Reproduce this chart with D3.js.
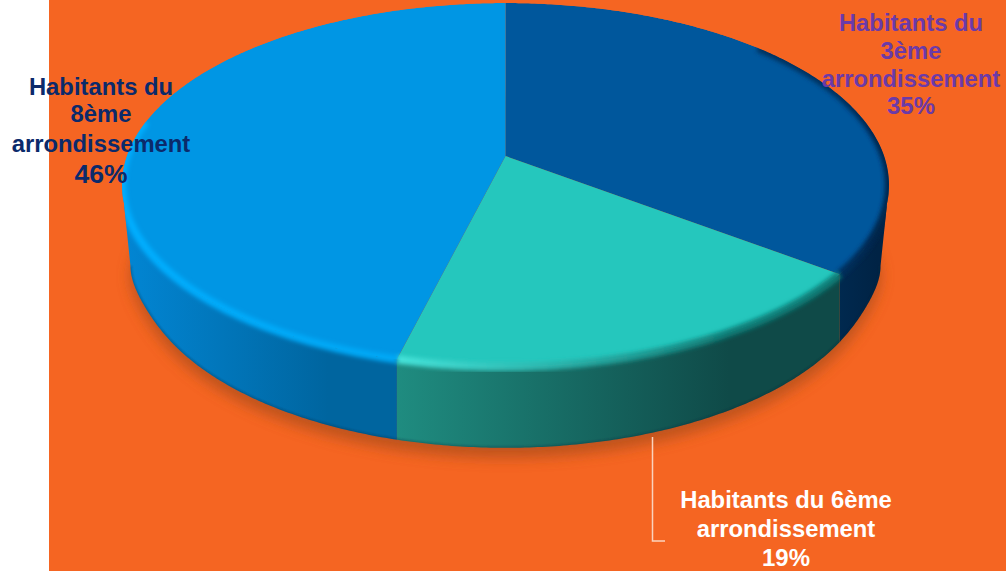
<!DOCTYPE html>
<html>
<head>
<meta charset="utf-8">
<script src="https://cdnjs.cloudflare.com/ajax/libs/d3/7.8.5/d3.min.js"></script>
<style>
    html, body { margin: 0; padding: 0; background: #fff; overflow: hidden; }
    svg { display: block; }
    text { font-family: "Liberation Sans", Arial, sans-serif; font-weight: bold; text-anchor: middle; }
</style>
</head>
<body>
<div id="chart"></div>
<script>
// Data (label says rounded %, slice sizes)
var categories = ['Habitants du 3ème arrondissement', 'Habitants du 6ème arrondissement', 'Habitants du 8ème arrondissement'];
var shares = [35.3, 18.6, 46.1];
var shareLabels = ['35%', '19%', '46%'];

// Slice colours: top face, wall gradient (left, right), rim light (left, right)
var topColors = ['#00579c', '#25c7bd', '#0096e4'];
var wallLeft = ['#00294f', '#1f8c80', '#0286d4'];
var wallRight = ['#002345', '#0f4a48', '#00659f'];
var rimLeft = ['#00305e', '#45e4da', '#00aeff'];
var rimRight = ['#00264e', '#0f7e78', '#00a8f6'];

var WIDTH = 1006, HEIGHT = 571;

// Perspective of the disc
var APEX_X = 505.5;
var TILT = 0.159;
var TOP_FACE = {y0: 156, rx: 378.6, ry: 177.3, bulge: 0};
var FOOT_FACE = {y0: 237, rx: 363, ry: 177.3, bulge: 0.02};   // outline of the wall's foot
var WALL_FACE = {y0: 260, rx: 378.6, ry: 177.3, bulge: 0};    // straight drop, cut by the foot outline

// How far past the wall the rim shading runs up the back of the disc
var RIM_BACK = 0.9;

function project(face, angle) {
    var c = Math.cos(angle);
    var w = 1 + TILT * c;
    var side = (c + TILT) / 0.2;
    var rx = face.rx * (1 + face.bulge * Math.exp(-side * side));
    return [APEX_X + rx * Math.sin(angle) / w, face.y0 - face.ry * c / w];
}

function arcPoints(face, a0, a1) {
    var n = Math.max(2, Math.ceil(Math.abs(a1 - a0) / 0.01));
    return d3.range(n + 1).map(function(i) { return project(face, a0 + (a1 - a0) * i / n); });
}

var line = d3.line();

var svg = d3.select('#chart').append('svg')
    .attr('width', WIDTH)
    .attr('height', HEIGHT);

svg.append('rect').attr('x', 49).attr('y', 0).attr('width', WIDTH - 49).attr('height', HEIGHT).attr('fill', '#f56522');

var defs = svg.append('defs');
defs.append('filter').attr('id', 'shadowBlur')
    .attr('x', '-10%').attr('y', '-10%').attr('width', '120%').attr('height', '120%')
    .append('feGaussianBlur').attr('stdDeviation', 7);
defs.append('filter').attr('id', 'rimBlur')
    .attr('x', '-5%').attr('y', '-5%').attr('width', '110%').attr('height', '110%')
    .append('feGaussianBlur').attr('stdDeviation', 2.2);
defs.append('filter').attr('id', 'edgeBlur')
    .attr('x', '-5%').attr('y', '-5%').attr('width', '110%').attr('height', '110%')
    .append('feGaussianBlur').attr('stdDeviation', 0.8);

var slices = d3.pie().sort(null)(shares);

var FRONT_FROM = Math.acos(-TILT);
var FRONT_TO = 2 * Math.PI - FRONT_FROM;

slices.forEach(function(s, i) {
    s.front = [Math.max(s.startAngle, FRONT_FROM), Math.min(s.endAngle, FRONT_TO)];
    s.rim = [Math.max(s.startAngle, FRONT_FROM - RIM_BACK), Math.min(s.endAngle, FRONT_TO + RIM_BACK * 0.4)];
    var wallXs = arcPoints(TOP_FACE, s.front[0], s.front[1]).map(function(p) { return p[0]; });
    [['wall', wallLeft, wallRight], ['rim', rimLeft, rimRight]].forEach(function(g) {
        var grad = defs.append('linearGradient').attr('id', g[0] + i)
            .attr('gradientUnits', 'userSpaceOnUse')
            .attr('x1', d3.min(wallXs)).attr('x2', d3.max(wallXs)).attr('y1', 0).attr('y2', 0);
        grad.append('stop').attr('offset', 0).attr('stop-color', g[1][i]);
        grad.append('stop').attr('offset', 0.75).attr('stop-color', g[2][i]);
        grad.append('stop').attr('offset', 1).attr('stop-color', g[2][i]);
    });
});

function wallPath(s) {
    return line(arcPoints(TOP_FACE, s.front[0], s.front[1]).concat(arcPoints(WALL_FACE, s.front[1], s.front[0]))) + 'Z';
}

// Silhouette of the whole pie: top face and foot outline
var discClip = defs.append('clipPath').attr('id', 'discClip');
discClip.append('path').attr('d', line(arcPoints(TOP_FACE, 0, 2 * Math.PI)) + 'Z');
discClip.append('path').attr('d', line(arcPoints(TOP_FACE, FRONT_FROM, FRONT_TO).concat(arcPoints(FOOT_FACE, FRONT_TO, FRONT_FROM))) + 'Z');

// Ground shadow
svg.append('path')
    .attr('d', line(arcPoints(FOOT_FACE, 0, 2 * Math.PI)) + 'Z')
    .attr('transform', 'translate(0,10)')
    .attr('fill', '#b04f1c')
    .attr('opacity', 0.8)
    .attr('filter', 'url(#shadowBlur)');

var body = svg.append('g').attr('clip-path', 'url(#discClip)');

// Walls
body.selectAll('path.wall').data(slices).enter().append('path')
    .attr('class', 'wall')
    .attr('d', wallPath)
    .attr('fill', function(s, i) { return 'url(#wall' + i + ')'; });

// Top faces
body.selectAll('path.face').data(slices).enter().append('path')
    .attr('class', 'face')
    .attr('d', function(s) {
        return line([[APEX_X, TOP_FACE.y0]].concat(arcPoints(TOP_FACE, s.startAngle, s.endAngle))) + 'Z';
    })
    .attr('fill', function(s, i) { return topColors[i]; });

// Bevel along the top edge
body.selectAll('path.rim').data(slices).enter().append('path')
    .attr('class', 'rim')
    .attr('d', function(s) { return line(arcPoints(TOP_FACE, s.rim[0], s.rim[1])); })
    .attr('fill', 'none')
    .attr('stroke', function(s, i) { return 'url(#rim' + i + ')'; })
    .attr('stroke-width', 8)
    .attr('filter', 'url(#rimBlur)');

// Thin dark line at the foot of the wall
body.append('path')
    .attr('d', line(arcPoints(FOOT_FACE, FRONT_FROM, FRONT_TO)))
    .attr('fill', 'none')
    .attr('stroke', '#0a2a3a')
    .attr('stroke-opacity', 0.35)
    .attr('stroke-width', 2.5)
    .attr('filter', 'url(#edgeBlur)');

// Leader line of the 6ème label
svg.append('path')
    .attr('d', line([[652.5, 437], [652.5, 541], [665, 541]]))
    .attr('fill', 'none')
    .attr('stroke', '#fbd3bd')
    .attr('stroke-width', 1.5);

// Labels
var labelLayout = [
    {i: 0, x: 911, color: '#6b3aa8', lines: ['Habitants du', '3ème', 'arrondissement'], y: [31, 59, 87], pctY: 114, pctSize: 24},
    {i: 1, x: 786, color: '#ffffff', lines: ['Habitants du 6ème', 'arrondissement'], y: [508, 537], pctY: 566, pctSize: 24},
    {i: 2, x: 101, color: '#0b2a6b', lines: ['Habitants du', '8ème', 'arrondissement'], y: [95, 122, 152], pctY: 183, pctSize: 26.5}
];

labelLayout.forEach(function(l) {
    var g = svg.append('g').attr('fill', l.color);
    l.lines.forEach(function(t, k) {
        g.append('text').attr('x', l.x).attr('y', l.y[k]).attr('font-size', 23.8).text(t);
    });
    g.append('text').attr('x', l.x).attr('y', l.pctY).attr('font-size', l.pctSize).text(shareLabels[l.i]);
});
</script>
</body>
</html>
